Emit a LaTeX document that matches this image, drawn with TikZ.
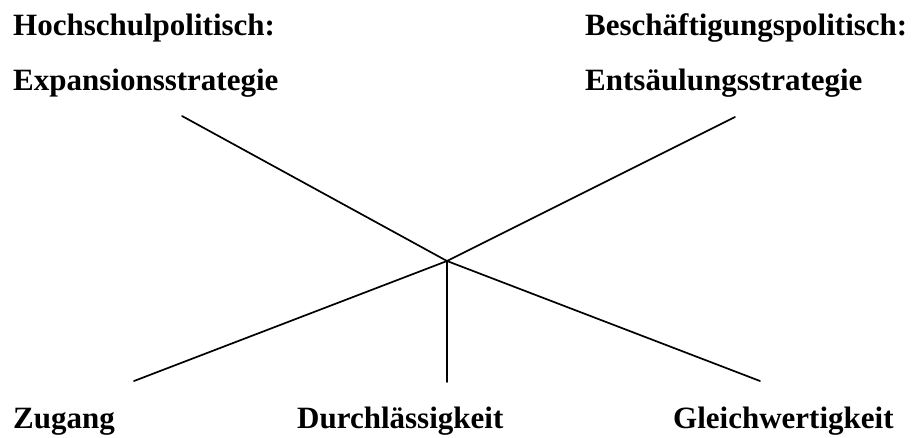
\documentclass[tikz,border=0pt]{standalone}
\usepackage{fontspec}
\setmainfont{Liberation Serif}
\begin{document}
\begin{tikzpicture}[x=1pt,y=-1pt,
  lbl/.style={anchor=base west,inner sep=0pt,font=\fontsize{31}{36}\selectfont\bfseries},
  ray/.style={line width=1.7pt,line cap=round}]
\useasboundingbox (0,0) rectangle (917,437);
% headings
\node[lbl] (hp) at (13,35) {Hochschulpolitisch:};
\node[lbl] (hs) at (13,90) {Expansionsstrategie};
\node[lbl] (bp) at (585,35) {Beschäftigungspolitisch:};
\node[lbl] (bs) at (585,90) {Entsäulungsstrategie};
% bottom labels
\node[lbl] (zu) at (13,428) {Zugang};
\node[lbl] (du) at (297,428) {Durchlässigkeit};
\node[lbl] (gl) at (673,428) {Gleichwertigkeit};
% rays from the common centre
\coordinate (c) at (447,261);
\coordinate (tl) at (182,116);
\coordinate (tr) at (735,117);
\coordinate (bl) at (134,381);
\coordinate (bm) at (447,382);
\coordinate (br) at (760,381);
\draw[ray] (c) -- (tl);
\draw[ray] (c) -- (tr);
\draw[ray] (c) -- (bl);
\draw[ray] (c) -- (bm);
\draw[ray] (c) -- (br);
\end{tikzpicture}
\end{document}
